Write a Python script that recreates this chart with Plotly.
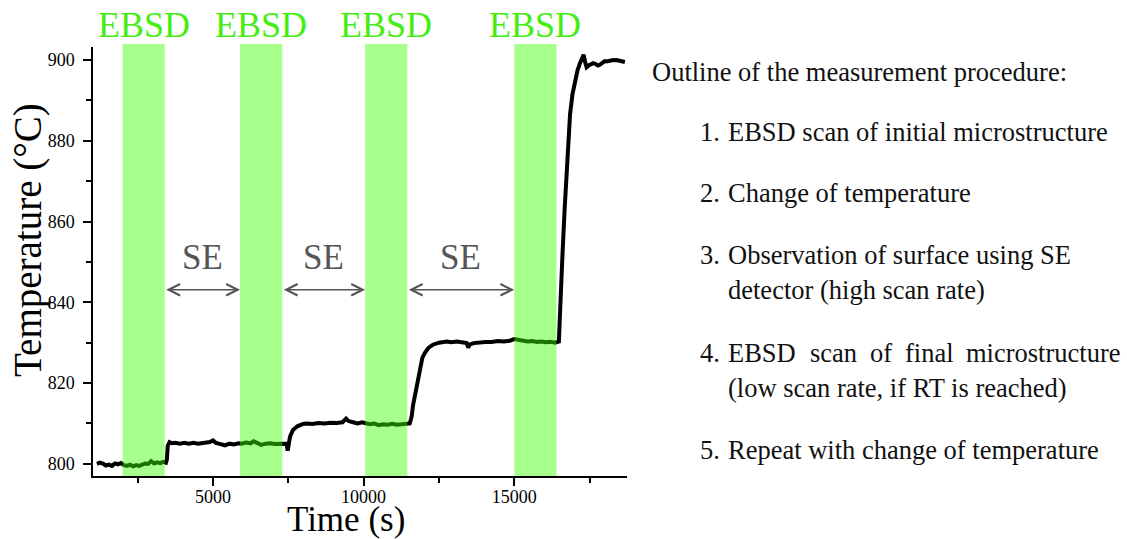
import plotly.graph_objects as go

# ---------------- data ----------------
time_s = [1150, 1250, 1350, 1450, 1550, 1650, 1750, 1850, 1950, 2050, 2150, 2250, 2350, 2450,
          2550, 2650, 2750, 2850, 2950, 3050, 3150, 3250, 3350, 3440, 3470, 3500, 3560, 3640,
          3750, 3900, 4050, 4200, 4350, 4500, 4650, 4800, 4900, 5000, 5100, 5250, 5400, 5550,
          5700, 5850, 5950, 6100, 6250, 6350, 6450, 6600, 6750, 6900, 7050, 7200, 7350, 7440,
          7480, 7510, 7560, 7656, 7800, 7988, 8100, 8300, 8500, 8700, 8900, 9100, 9300, 9420,
          9500, 9650, 9800, 9950, 10050, 10200, 10350, 10500, 10650, 10800, 10950, 11100, 11250,
          11400, 11530, 11560, 11594, 11640, 11700, 11760, 11870, 11950, 12035, 12150, 12300,
          12500, 12755, 12900, 13100, 13300, 13420, 13470, 13530, 13650, 13850, 14050, 14250,
          14450, 14650, 14850, 15000, 15150, 15300, 15450, 15600, 15750, 15900, 16050, 16200,
          16350, 16480, 16510, 16545, 16600, 16670, 16733, 16790, 16850, 16930, 17010, 17100,
          17180, 17260, 17300, 17360, 17400, 17480, 17560, 17620, 17700, 17780, 17840, 17920,
          18000, 18060, 18150, 18250, 18390, 18500, 18600, 18670]
temp_c = [800.0, 800.3, 800.1, 799.6, 799.8, 799.5, 800.1, 799.9, 800.2, 799.7, 799.5, 799.8, 799.4, 799.7,
          799.5, 799.9, 800.1, 800.0, 800.7, 800.1, 800.4, 800.2, 800.5, 800.3, 801.0, 804.5, 805.4, 805.1,
          805.2, 805.0, 805.2, 805.0, 805.2, 805.0, 805.1, 805.2, 805.4, 805.8, 805.2, 804.9, 804.6, 805.0,
          804.8, 805.1, 805.0, 805.3, 805.1, 805.6, 805.2, 804.7, 805.0, 805.1, 804.9, 805.0, 805.1, 805.0,
          803.3, 804.5, 806.8, 808.4, 809.3, 809.9, 810.0, 809.9, 810.1, 810.0, 810.2, 810.1, 810.3, 811.2,
          810.6, 810.3, 810.0, 810.3, 810.0, 809.8, 810.0, 809.6, 809.8, 809.7, 809.9, 809.7, 809.8,
          809.9, 810.0, 810.8, 811.7, 814.5, 817.0, 819.1, 824.1, 826.3, 827.5, 828.7, 829.5,
          830.0, 830.3, 830.1, 830.3, 830.1, 829.9, 828.8, 829.6, 829.9, 830.1, 830.2, 830.2,
          830.4, 830.3, 830.5, 830.9, 830.6, 830.5, 830.3, 830.4, 830.2, 830.3, 830.1, 830.2,
          830.0, 830.3, 836.0, 843.5, 852.0, 863.0, 872.0, 880.0, 886.5, 891.5, 895.0, 897.5,
          899.2, 901.0, 901.3, 899.2, 898.2, 898.7, 899.0, 899.2, 899.0, 898.6, 898.8, 899.4,
          899.7, 899.6, 899.8, 899.9, 900.0, 899.8, 899.6, 899.5]

ebsd_start = [2000, 5900, 10050, 15000]
ebsd_end = [3400, 7300, 11450, 16400]
ebsd_label = ["EBSD", "EBSD", "EBSD", "EBSD"]

se_start = [3400, 7300, 11450]
se_end = [5900, 10050, 15000]
se_label = ["SE", "SE", "SE"]

x_ticks = [5000, 10000, 15000]
x_minor = [2500, 7500, 12500, 17500]
y_ticks = [800, 820, 840, 860, 880, 900]
y_minor = [810, 830, 850, 870, 890]

outline_title = "Outline of the measurement procedure:"
steps_num = ["1.", "2.", "3.", "4.", "5."]
steps_lines = [
    ["EBSD scan of initial microstructure"],
    ["Change of temperature"],
    ["Observation of surface using SE", "detector (high scan rate)"],
    ["EBSD  scan  of  final  microstructure", "(low scan rate, if RT is reached)"],
    ["Repeat with change of temperature"],
]

# ---------------- layout geometry ----------------
W, H = 1127, 539
L, T = 93, 47
PW, PH = 534, 429
R, B = W - L - PW, H - T - PH
FONT = "Liberation Serif, Times New Roman, serif"


def px(xs):
    """screen x pixel -> paper x"""
    return (xs - L) / PW


def py(ys):
    """screen y pixel -> paper y"""
    return (T + PH - ys) / PH


fig = go.Figure()
fig.add_trace(go.Scatter(x=time_s, y=temp_c, mode="lines",
                         line=dict(color="black", width=4), hoverinfo="skip",
                         showlegend=False))

shapes = []
annotations = []
band_color = "rgba(62,255,0,0.45)"
for s, e, lab in zip(ebsd_start, ebsd_end, ebsd_label):
    shapes.append(dict(type="rect", xref="x", yref="paper", x0=s, x1=e, y0=0, y1=py(44),
                       fillcolor=band_color, line=dict(width=0), layer="above"))
    annotations.append(dict(x=(s + e) / 2, y=py(25), xref="x", yref="paper", text=lab,
                            showarrow=False, font=dict(family=FONT, size=36, color="#44ee11"),
                            xanchor="center", yanchor="middle"))

arrow_y = 843.1
for s, e, lab in zip(se_start, se_end, se_label):
    annotations.append(dict(x=e, y=arrow_y, ax=s, ay=arrow_y, xref="x", yref="y",
                            axref="x", ayref="y", text="", showarrow=True,
                            arrowhead=5, startarrowhead=5, arrowside="end+start",
                            arrowsize=1.4, startarrowsize=1.4, arrowwidth=1.6,
                            arrowcolor="#555555", standoff=0, startstandoff=0))
    annotations.append(dict(x=(s + e) / 2, y=py(257), xref="x", yref="paper", text=lab,
                            showarrow=False, font=dict(family=FONT, size=35, color="#555555"),
                            xanchor="center", yanchor="middle"))

# axis titles
annotations.append(dict(x=px(28), y=py(240), xref="paper", yref="paper",
                        text="Temperature (°C)", textangle=-90, showarrow=False,
                        font=dict(family=FONT, size=39, color="black"),
                        xanchor="center", yanchor="middle"))
annotations.append(dict(x=px(346), y=py(519), xref="paper", yref="paper",
                        text="Time (s)", showarrow=False,
                        font=dict(family=FONT, size=35, color="black"),
                        xanchor="center", yanchor="middle", borderpad=0))

# right-hand text
TXT = dict(family=FONT, size=26.5, color="#111111")
annotations.append(dict(x=px(650), y=py(72), xref="paper", yref="paper", text=outline_title,
                        showarrow=False, font=TXT, xanchor="left", yanchor="middle"))
item_y = [132, 193, 255, 353, 450]
line_gap = 35
word_x = [728, 810, 870, 905, 966]
for num, lines, yy in zip(steps_num, steps_lines, item_y):
    annotations.append(dict(x=px(698), y=py(yy), xref="paper", yref="paper", text=num,
                            showarrow=False, font=TXT, xanchor="left", yanchor="middle"))
    for k, ln in enumerate(lines):
        if "  " in ln:
            for w_, wx in zip(ln.split(), word_x):
                annotations.append(dict(x=px(wx - 2), y=py(yy + k * line_gap), xref="paper",
                                        yref="paper", text=w_, showarrow=False, font=TXT,
                                        xanchor="left", yanchor="middle"))
        else:
            annotations.append(dict(x=px(726), y=py(yy + k * line_gap), xref="paper",
                                    yref="paper", text=ln, showarrow=False, font=TXT,
                                    xanchor="left", yanchor="middle"))

axis_common = dict(showline=True, linecolor="black", linewidth=1.5, ticks="outside",
                   ticklen=8, tickwidth=1.5, tickcolor="black", showgrid=False,
                   zeroline=False, mirror=False,
                   tickfont=dict(family=FONT, size=18, color="black"))

fig.update_layout(
    width=W, height=H,
    margin=dict(l=L, r=R, t=T, b=B, autoexpand=False),
    paper_bgcolor="white", plot_bgcolor="white",
    shapes=shapes, annotations=annotations,
    xaxis=dict(range=[1020, 18740], tickmode="array", tickvals=x_ticks,
               ticktext=[str(v) for v in x_ticks], ticklabelstandoff=-4,
               minor=dict(tickvals=x_minor, ticks="outside", ticklen=5, tickwidth=1.5,
                          tickcolor="black"),
               **axis_common),
    yaxis=dict(range=[797.0, 903.2], tickmode="array", tickvals=y_ticks,
               ticktext=[str(v) for v in y_ticks], ticklabelstandoff=5,
               minor=dict(tickvals=y_minor, ticks="outside", ticklen=5, tickwidth=1.5,
                          tickcolor="black"),
               **axis_common),
)

fig.write_html("out.html", config={"displayModeBar": False},
               post_script="document.body.style.margin='0';document.body.style.overflow='hidden';")
